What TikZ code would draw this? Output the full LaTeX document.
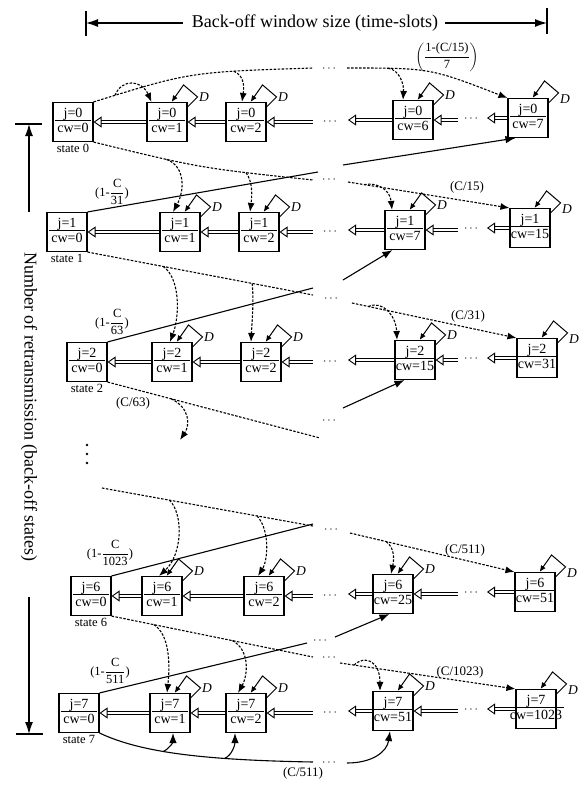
\documentclass[tikz,border=0pt]{standalone}
\usepackage{amsmath}
\usepackage{fontspec}
\setmainfont{Liberation Serif}
\usetikzlibrary{arrows.meta,calc,positioning}
\setlength{\arrayrulewidth}{0.9pt}

\newcommand{\stl}[2]{\makebox[0pt]{\begin{tabular}{@{\,}c@{\,}}j=#1\\[-1pt]\hline\rule{0pt}{11.5pt}cw=#2\end{tabular}}}
\newcommand{\oneminus}[1]{$\text{(1-}\dfrac{\text{C}}{\text{#1}}\text{)}$}

\tikzset{
  stbox/.style={draw,line width=1.1pt,minimum width=40pt,minimum height=39pt,inner sep=0pt,fill=white,font=\fontsize{14}{14.5}\selectfont},
  statelbl/.style={inner sep=1pt,font=\fontsize{12.5}{13}\selectfont},
  dbl/.style={double,double distance=2.6pt,line width=0.9pt,-{Triangle[open,length=8pt,width=11pt]}},
  selfloop/.style={line width=1pt,-{Latex[length=6.5pt,width=5.5pt]}},
  dsh/.style={line width=1.1pt,dash pattern=on 2.5pt off 1.5pt},
  dsharr/.style={dsh,-{Latex[length=9pt,width=7pt]}},
  sld/.style={line width=1.1pt},
  sldarr/.style={sld,-{Latex[length=10pt,width=7.5pt]}},
  axarr/.style={line width=1.1pt,-{Latex[length=12pt,width=8pt]}},
  gdots/.style={inner sep=0.5pt,font=\fontsize{12}{12}\selectfont},
  plbl/.style={inner sep=1pt,font=\fontsize{13}{14}\selectfont},
  flbl/.style={inner sep=1pt,font=\fontsize{12.5}{13}\selectfont},
  dlbl/.style={inner sep=1pt,font=\fontsize{13.5}{14}\selectfont\itshape},
  axlbl/.style={inner sep=0pt,font=\fontsize{18}{20}\selectfont},
}

\begin{document}
\begin{tikzpicture}[x=1pt,y=-1pt]
\useasboundingbox (0,0) rectangle (580,785);
% axes
\node[axlbl] (hl) at (315,23) {Back-off window size (time-slots)};
\coordinate (hl-l) at (86,23);
\coordinate (hl-r) at (547,23);
\draw[axarr] ([xshift=-9pt]hl.west) -- (hl-l);
\draw[axarr] ([xshift=7pt]hl.east) -- (hl-r);
\draw[line width=1.1pt] ($(hl-l)+(0,-12)$) -- ($(hl-l)+(0,13)$);
\draw[line width=1.1pt] ($(hl-r)+(0,-15)$) -- ($(hl-r)+(0,11)$);
\node[axlbl,rotate=-90] (vl) at (29,407) {Number of retransmission (back-off states)};
\coordinate (vl-t) at (29,124);
\coordinate (vl-b) at (29,734);
\draw[axarr] ([yshift=40pt]vl.west) -- (vl-t);
\draw[axarr] ([yshift=-35pt]vl.east) -- (vl-b);
\draw[line width=1.1pt] ($(vl-t)+(-14,0)$) -- ($(vl-t)+(13,0)$);
\draw[line width=1.1pt] ($(vl-b)+(-13,0)$) -- ($(vl-b)+(14,0)$);

% back-off states, one row per retransmission
\foreach \r/\y/\xa/\xb/\xc/\xm/\xe/\m/\e in {0/122/73/167/246/413/528/6/7,
    1/232/67/180/259/405/530/7/15, 2/362/87/172/261/415/537/15/31,
    6/596/91/162/264/393/535/25/51, 7/713/79/170/246/393/536/51/1023}{
  \node[stbox] (s\r-0) at (\xa,\y) {\stl{\r}{0}};
  \node[stbox] (s\r-1) at (\xb,\y) {\stl{\r}{1}};
  \node[stbox] (s\r-2) at (\xc,\y) {\stl{\r}{2}};
  \node[stbox] (s\r-m) at (\xm,\y-2) {\stl{\r}{\m}};
  \node[stbox] (s\r-e) at (\xe,\y-4) {\stl{\r}{\e}};
  \node[statelbl,below=1pt of s\r-0] {state \r};
  \draw[dbl] (s\r-1) -- (s\r-0);
  \draw[dbl] (s\r-2) -- (s\r-1);
  \draw[dbl] (313,\y) -- (s\r-2);
  \node[gdots] at (331,\y) {$\cdots$};
  \draw[dbl] (s\r-m.west) -- (348,\y-2);
  \draw[dbl] (458,\y-2) -- (s\r-m.east);
  \node[gdots] at (472,\y-3) {$\cdots$};
  \draw[dbl] (s\r-e.west) -- (487,\y-4);
  \foreach \k/\da in {1/west,2/west,m/west,e/north west}
    \draw[selfloop] ($(s\r-\k.north east)+(0,5)$) -- ($(s\r-\k.north east)+(10,-5)$)
      node[dlbl,anchor=\da] {D} -- ($(s\r-\k.north east)+(-4,-17)$)
      -- ($(s\r-\k.north east)+(-16,0)$);
}

% gaps in the long transitions
\coordinate (g0a) at (313,68);  \coordinate (g0b) at (347,68);
\coordinate (g1a) at (313,180); \coordinate (g1b) at (348,182);
\coordinate (h1a) at (318,172); \coordinate (h1b) at (343,165);
\coordinate (g2a) at (313,295); \coordinate (g2b) at (352,303);
\coordinate (h2a) at (313,288); \coordinate (h2b) at (343,280);
\coordinate (g3a) at (320,438); \coordinate (c63) at (180,440);
\coordinate (h3b) at (343,408);
\coordinate (g5b) at (102,488); \coordinate (g6a) at (313,526); \coordinate (g6b) at (350,533);
\coordinate (h6a) at (313,524);
\coordinate (g7a) at (313,657); \coordinate (g7b) at (340,663);
\coordinate (h7a) at (307,643); \coordinate (h7b) at (335,637);
\coordinate (k7a) at (313,762); \coordinate (k7b) at (347,763);

% row 0 -> row 0
\draw[dsh] (s0-0.north east) .. controls (190,72) .. (g0a)
  coordinate[pos=0.08] (a01) coordinate[pos=0.72] (a02);
\node[gdots] at (330,69) {$\cdots$};
\draw[dsharr] (g0b) .. controls (430,68) .. (s0-e.north west) coordinate[pos=0.2] (a0m);
\draw[dsharr] (a01) .. controls (122,78) and (142,80) .. ($(s0-1.north west)+(5,0)$);
\draw[dsharr] (a02) .. controls (245,76) and (244,88) .. ($(s0-2.north)+(-4,0)$);
\draw[dsharr] (a0m) .. controls (400,70) and (404,85) .. ($(s0-m.north)+(-10,0)$);
\node[flbl,font=\fontsize{12.5}{13}\selectfont] at (447,57) {$\left(\dfrac{\text{1-(C/15)}}{\text{7}}\right)$};

% row 0 -> row 1
\draw[dsh] (s0-0.south east) .. controls (200,168) .. (g1a)
  coordinate[pos=0.3] (b11) coordinate[pos=0.75] (b12);
\node[gdots] at (330,180) {$\cdots$};
\draw[dsharr] (g1b) -- (s1-e.north west) coordinate[pos=0.1] (b1m);
\draw[dsharr] (b11) .. controls (185,166) and (185,190) .. ($(s1-1.north)+(-7,0)$);
\draw[dsharr] (b12) .. controls (253,182) and (252,196) .. ($(s1-2.north)+(-9,0)$);
\draw[dsharr] (b1m) .. controls (378,182) and (390,190) .. ($(s1-m.north)+(-13,0)$);
\node[plbl] at (467,187) {(C/15)};
\draw[sld] (s1-0.north east) -- (h1a);
\draw[sldarr] (h1b) -- ($(s0-e.south west)+(8,0)$);
\node[flbl] at (112,192) {\oneminus{31}};

% row 1 -> row 2
\draw[dsh] (s1-0.south east) -- (g2a) coordinate[pos=0.336] (b21) coordinate[pos=0.73] (b22);
\node[gdots] at (332,299) {$\cdots$};
\draw[dsharr] (g2b) -- (s2-e.north west) coordinate[pos=0.1] (b2m);
\draw[dsharr] (b21) .. controls (180,278) and (180,315) .. ($(s2-1.north)+(-2,0)$);
\draw[dsharr] (b22) .. controls (254,300) and (252,322) .. ($(s2-2.north)+(-10,0)$);
\draw[dsharr] (b2m) .. controls (383,300) and (396,316) .. ($(s2-m.north)+(-18,0)$);
\node[plbl] at (468,316) {(C/31)};
\draw[sld] (s2-0.north east) -- (h2a);
\draw[sldarr] (h2b) -- ($(s1-m.south west)+(8,0)$);
\node[flbl] at (112,322) {\oneminus{63}};

% row 2 -> further rows
\draw[dsh] (s2-0.south east) -- (g3a) coordinate[pos=0.3] (b31);
\draw[dsharr] (b31) .. controls (190,408) and (190,425) .. (c63);
\node[plbl] at (133,403) {(C/63)};
\node[gdots] at (330,421) {$\cdots$};
\draw[sldarr] (h3b) -- ($(s2-m.south west)+(10,0)$);
\foreach \d in {445,454,463} \fill (87,\d) circle (1.3pt);

% row 5 -> row 6
\draw[dsh] (g5b) -- (g6a) coordinate[pos=0.32] (b61) coordinate[pos=0.735] (b62);
\node[gdots] at (332,530) {$\cdots$};
\draw[dsharr] (g6b) -- (s6-e.north west) coordinate[pos=0.22] (b6m);
\draw[dsharr] (b61) .. controls (184,515) and (182,555) .. ($(s6-1.north)+(-3,0)$);
\draw[dsharr] (b62) .. controls (270,530) and (268,560) .. ($(s6-2.north)+(-6,0)$);
\draw[dsharr] (b6m) .. controls (395,548) and (394,560) .. ($(s6-m.north)+(-2,0)$);
\node[plbl] at (465,550) {(C/511)};
\draw[sld] (s6-0.north east) -- (h6a);
\node[flbl] at (110,553) {\oneminus{1023}};

% row 6 -> row 7
\draw[dsh] (s6-0.south east) -- (g7a) coordinate[pos=0.21] (b71) coordinate[pos=0.6] (b72);
\node[gdots] at (330,658) {$\cdots$};
\draw[dsharr] (g7b) -- (s7-e.north west) coordinate[pos=0.08] (b7m);
\draw[dsharr] (b71) .. controls (170,635) and (170,665) .. ($(s7-1.north)+(-3,0)$);
\draw[dsharr] (b72) .. controls (250,650) and (248,675) .. ($(s7-2.north)+(-8,0)$);
\draw[dsharr] (b7m) .. controls (366,654) and (380,662) .. ($(s7-m.north)+(-13,0)$);
\node[plbl] at (460,672) {(C/1023)};
\draw[sld] (s7-0.north east) -- (h7a);
\node[gdots] at (321,641) {$\cdots$};
\draw[sldarr] (h7b) -- ($(s6-m.south west)+(17,0)$);
\node[flbl] at (110,671) {\oneminus{511}};

% row 7 -> row 7
\draw[sld] (s7-0.south east) .. controls (140,752) and (200,760) .. (k7a)
  coordinate[pos=0.42] (c71) coordinate[pos=0.7] (c72);
\node[gdots] at (330,763) {$\cdots$};
\draw[sldarr] (k7b) .. controls (372,763) and (387,752) .. ($(s7-m.south)+(-3,0)$);
\draw[sldarr] (c71) .. controls (170,748) and (173,742) .. ($(s7-1.south)+(3,0)$);
\draw[sldarr] (c72) .. controls (232,755) and (235,745) .. ($(s7-2.south)+(-11,0)$);
\node[plbl] at (303,773) {(C/511)};
\end{tikzpicture}
\end{document}
